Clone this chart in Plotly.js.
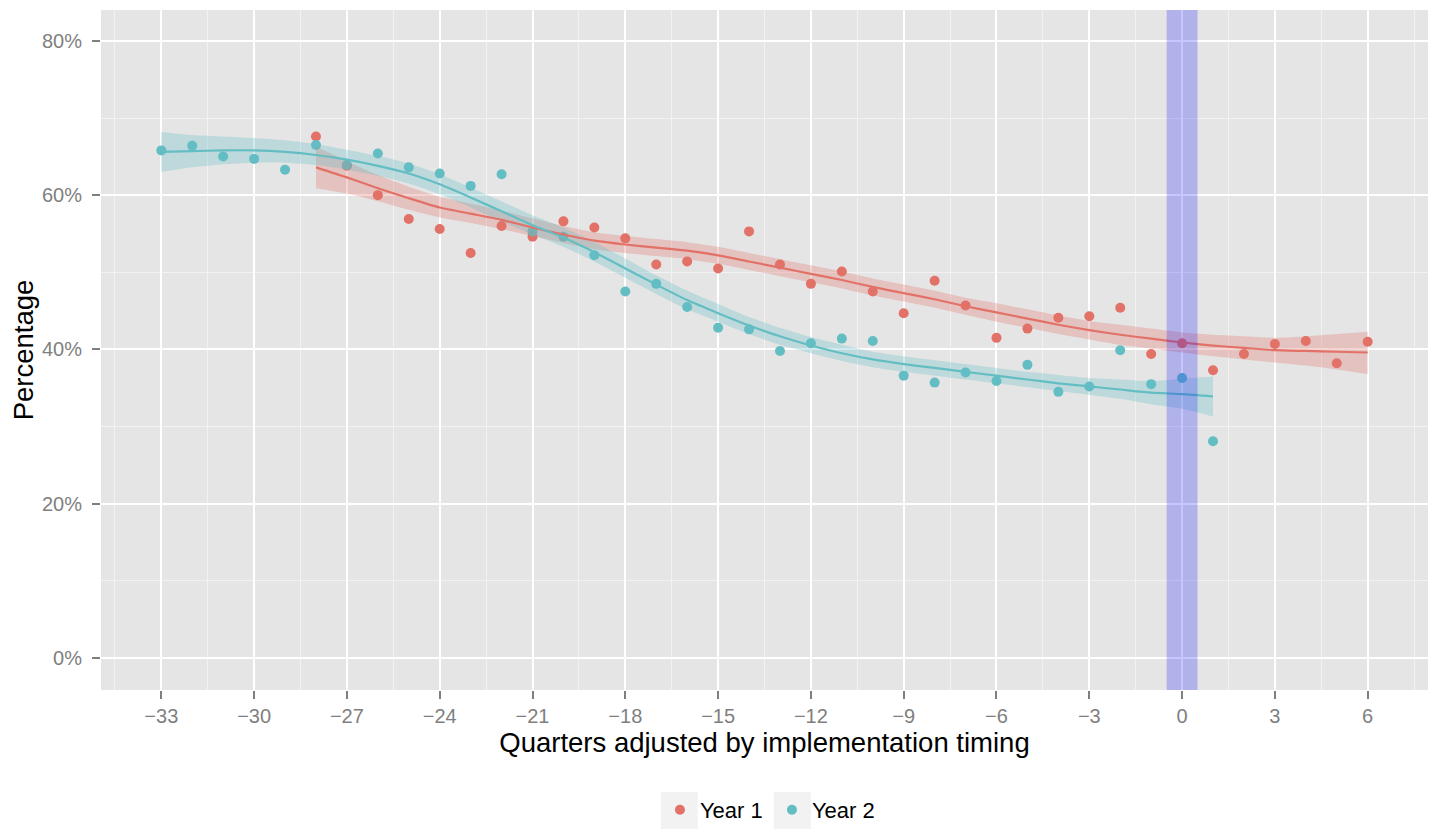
<!DOCTYPE html>
<html>
<head>
<meta charset="utf-8">
<script src="https://cdn.plot.ly/plotly-3.0.1.min.js"></script>
<style>
html,body{margin:0;padding:0;background:#fff;}
#chart{width:1435px;height:829px;}
</style>
</head>
<body>
<div id="chart"></div>
<script>
// ---- data ----
var quarters1 = [-28,-27,-26,-25,-24,-23,-22,-21,-20,-19,-18,-17,-16,-15,-14,-13,-12,-11,-10,-9,-8,-7,-6,-5,-4,-3,-2,-1,0,1,2,3,4,5,6];
var year1 = [67.6,63.8,60.0,56.9,55.6,52.5,56.0,54.6,56.6,55.8,54.4,51.0,51.4,50.5,55.3,51.0,48.5,50.1,47.5,44.7,48.9,45.7,41.5,42.7,44.1,44.3,45.4,39.4,40.8,37.3,39.4,40.7,41.1,38.2,41.0];
var fit1 = [63.6,62.3,60.9,59.6,58.4,57.6,56.8,55.8,54.9,54.1,53.6,53.2,52.8,52.2,51.4,50.6,49.8,49.0,48.1,47.3,46.5,45.6,44.8,44.0,43.2,42.5,41.9,41.4,40.9,40.5,40.2,39.9,39.8,39.7,39.6];
var upper1 = [66.3,64.4,62.6,61.1,59.8,58.9,58.0,57.0,56.0,55.2,54.7,54.3,53.9,53.3,52.5,51.7,50.9,50.1,49.2,48.4,47.6,46.7,46.0,45.2,44.4,43.7,43.2,42.7,42.2,41.9,41.7,41.5,41.7,42.0,42.3];
var lower1 = [60.9,60.2,59.2,58.1,57.1,56.4,55.6,54.7,53.8,53.0,52.5,52.1,51.7,51.1,50.3,49.5,48.7,47.9,47.0,46.2,45.4,44.5,43.6,42.8,42.0,41.3,40.6,40.1,39.6,39.1,38.7,38.3,37.9,37.4,36.8];

var quarters2 = [-33,-32,-31,-30,-29,-28,-27,-26,-25,-24,-23,-22,-21,-20,-19,-18,-17,-16,-15,-14,-13,-12,-11,-10,-9,-8,-7,-6,-5,-4,-3,-2,-1,0,1];
var year2 = [65.8,66.4,65.0,64.7,63.3,66.5,63.9,65.4,63.6,62.8,61.2,62.7,55.3,54.6,52.2,47.5,48.5,45.5,42.8,42.6,39.8,40.8,41.4,41.1,36.6,35.7,37.0,35.9,38.0,34.5,35.2,39.9,35.5,36.3,28.1];
var fit2 = [65.6,65.7,65.8,65.8,65.6,65.2,64.6,63.8,62.8,61.4,59.7,57.9,56.1,54.5,52.6,50.5,48.4,46.4,44.7,43.1,41.7,40.5,39.5,38.7,38.1,37.6,37.1,36.6,36.1,35.6,35.2,34.8,34.4,34.2,33.9];
var upper2 = [68.2,67.8,67.6,67.4,67.1,66.6,65.9,65.1,64.1,62.7,61.0,59.2,57.4,55.8,53.9,51.8,49.6,47.6,45.9,44.2,42.8,41.6,40.6,39.7,39.1,38.6,38.1,37.6,37.1,36.7,36.3,36.1,35.9,36.2,36.5];
var lower2 = [63.0,63.6,64.0,64.2,64.2,63.9,63.3,62.5,61.5,60.1,58.4,56.6,54.9,53.3,51.4,49.3,47.2,45.2,43.6,42.0,40.6,39.5,38.5,37.7,37.1,36.6,36.1,35.6,35.1,34.6,34.1,33.6,32.9,32.3,31.3];

var seriesNames = ["Year 1", "Year 2"];
var xTicks = [-33,-30,-27,-24,-21,-18,-15,-12,-9,-6,-3,0,3,6];
var yTicks = [0,20,40,60,80];
var yTickLabels = ["0%","20%","40%","60%","80%"];
var highlight = [-0.5, 0.5];

// ---- style ----
var red = "rgb(226,113,104)";
var teal = "rgb(99,190,196)";
var redFill = "rgba(226,113,104,0.30)";
var tealFill = "rgba(99,190,196,0.30)";

function bandTraces(x, lo, hi, fill) {
  return [
    {x: x, y: lo, type: "scatter", mode: "lines",
     line: {width: 0, shape: "spline", smoothing: 0.6}, hoverinfo: "skip", showlegend: false},
    {x: x, y: hi, type: "scatter", mode: "lines", fill: "tonexty", fillcolor: fill,
     line: {width: 0, shape: "spline", smoothing: 0.6}, hoverinfo: "skip", showlegend: false}
  ];
}

var traces = [
  {x: quarters1, y: year1, type: "scatter", mode: "markers", name: seriesNames[0],
   marker: {color: red, size: 10}},
  {x: quarters2, y: year2, type: "scatter", mode: "markers", name: seriesNames[1],
   marker: {color: teal, size: 10}}
].concat(bandTraces(quarters1, lower1, upper1, redFill))
 .concat(bandTraces(quarters2, lower2, upper2, tealFill))
 .concat([
  {x: quarters1, y: fit1, type: "scatter", mode: "lines", showlegend: false,
   line: {color: red, width: 2.2, shape: "spline", smoothing: 0.6}},
  {x: quarters2, y: fit2, type: "scatter", mode: "lines", showlegend: false,
   line: {color: teal, width: 2.2, shape: "spline", smoothing: 0.6}}
]);

var font = "Liberation Sans, Arial, Helvetica, sans-serif";

// legend key backgrounds (paper coords)
var keyShapes = [0, 1].map(function (i) {
  return {type: "rect", xref: "paper", yref: "paper",
    x0: 0.4218 + i * 0.0852, x1: 0.4497 + i * 0.0852, y0: -0.2044, y1: -0.15,
    fillcolor: "#F2F2F2", line: {width: 0}, layer: "below"};
});

var layout = {
  width: 1435, height: 829,
  margin: {l: 101, r: 7, t: 10, b: 139, autoexpand: false},
  paper_bgcolor: "#ffffff",
  plot_bgcolor: "#E5E5E5",
  font: {family: font, color: "#000"},
  showlegend: true,
  legend: {orientation: "h", traceorder: "normal", x: 0.4212, xanchor: "left", y: -0.1765, yanchor: "middle",
           entrywidth: 67, entrywidthmode: "pixels",
           font: {size: 22, color: "#000"}, bgcolor: "rgba(0,0,0,0)"},
  xaxis: {
    range: [-34.95, 7.95], tickvals: xTicks, zeroline: false,
    showgrid: true, gridcolor: "#ffffff", gridwidth: 2,
    minor: {dtick: 1.5, tick0: -33, showgrid: true, gridcolor: "#F2F2F2", gridwidth: 1, ticks: ""},
    ticks: "outside", ticklen: 8, tickwidth: 2, tickcolor: "#7F7F7F", ticklabelstandoff: 0,
    tickfont: {size: 20, color: "#7F7F7F", family: font},
    title: {text: "Quarters adjusted by implementation timing", font: {size: 27.5, color: "#000", family: font}, standoff: 3},
    automargin: false
  },
  yaxis: {
    range: [-4.15, 84.0], tickvals: yTicks, ticktext: yTickLabels, zeroline: false,
    showgrid: true, gridcolor: "#ffffff", gridwidth: 2,
    minor: {dtick: 10, tick0: 0, showgrid: true, gridcolor: "#F2F2F2", gridwidth: 1, ticks: ""},
    ticks: "outside", ticklen: 8, tickwidth: 2, tickcolor: "#7F7F7F", ticklabelstandoff: 6,
    tickfont: {size: 20, color: "#7F7F7F", family: font},
    title: {text: "Percentage", font: {size: 27.5, color: "#000", family: font}, standoff: 0},
    automargin: false
  },
  shapes: [
    {type: "rect", xref: "x", yref: "paper", x0: highlight[0], x1: highlight[1], y0: 0, y1: 1,
     fillcolor: "rgba(0,0,255,0.22)", line: {width: 0}, layer: "above"}
  ].concat(keyShapes)
};

Plotly.newPlot("chart", traces, layout, {displayModeBar: false, staticPlot: true});
</script>
</body>
</html>
